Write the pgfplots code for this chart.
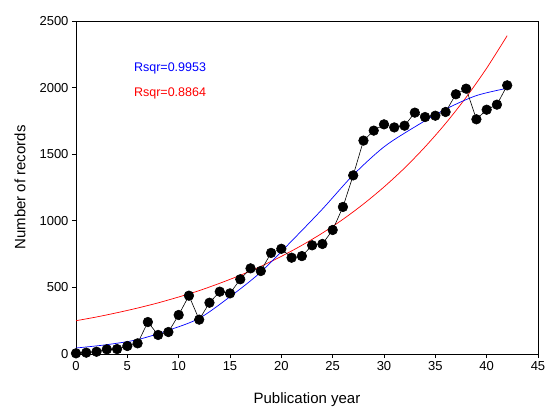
\documentclass[border=0pt]{standalone}
\usepackage{fontspec}
\setmainfont{Liberation Sans}
\usepackage{pgfplots}
\pgfplotsset{compat=1.18}
\begin{document}
\begin{tikzpicture}
\begin{axis}[
  scale only axis, width=462pt, height=333pt,
  xmin=0, xmax=45, ymin=0, ymax=2500,
  xtick={0,5,...,45}, ytick={0,500,...,2500},
  tick align=outside, tick pos=left, major tick length=4pt,
  axis line style={line width=0.8pt},
  tick style={black, line width=0.8pt},
  tick label style={font=\fontsize{13}{15}\selectfont},
  /pgf/number format/assume math mode=true,
  /pgf/number format/1000 sep={},
  xlabel={Publication year}, ylabel={Number of records},
  label style={font=\fontsize{15}{17}\selectfont},
  xlabel style={at={(axis description cs:0.5,-0.137)}, anchor=center},
  ylabel style={at={(axis description cs:-0.121,0.5)}, anchor=center},
  clip=false,
]
% exponential fit (red)
\addplot[red, line width=0.7pt, smooth] coordinates {
(0,250) (2,278) (4,310) (6,345) (8,384) (10,428) (12,476) (14,531) (16,591)
(18,658) (20,733) (22,816) (24,908) (26,1011) (28,1126) (30,1254) (32,1396)
(34,1555) (36,1731) (38,1927) (40,2146) (42,2390)};
% sigmoidal fit (blue)
\addplot[blue, line width=0.7pt, smooth] coordinates {
(0,45) (3,70) (6,108) (9,178) (12,268) (15,430) (18,615) (21,848) (24,1088)
(27,1344) (30,1555) (33,1705) (36,1838) (39,1940) (42,1995)};
% data
\addplot[black, line width=0.6pt, mark=*, mark size=4.8pt, mark options={fill=black, solid}] coordinates {
(0,5) (1,10) (2,17) (3,35) (4,37) (5,60) (6,80) (7,240) (8,143) (9,165)
(10,293) (11,438) (12,258) (13,385) (14,468) (15,455) (16,561) (17,643) (18,623)
(19,759) (20,790) (21,723) (22,735) (23,816) (24,826) (25,931) (26,1104)
(27,1341) (28,1602) (29,1677) (30,1724) (31,1701) (32,1714) (33,1812)
(34,1779) (35,1789) (36,1817) (37,1950) (38,1992) (39,1762) (40,1834)
(41,1872) (42,2017)};
\node[anchor=west, text=blue, font=\fontsize{12.5}{14}\selectfont, inner sep=0pt] at (axis cs:5.64,2147) {Rsqr=0.9953};
\node[anchor=west, text=red, font=\fontsize{12.5}{14}\selectfont, inner sep=0pt] at (axis cs:5.64,1959) {Rsqr=0.8864};
\end{axis}
\pgfresetboundingbox
\path (current axis.south west) ++(-76pt,-56pt) rectangle ++(546pt,410pt);
\end{tikzpicture}
\end{document}
